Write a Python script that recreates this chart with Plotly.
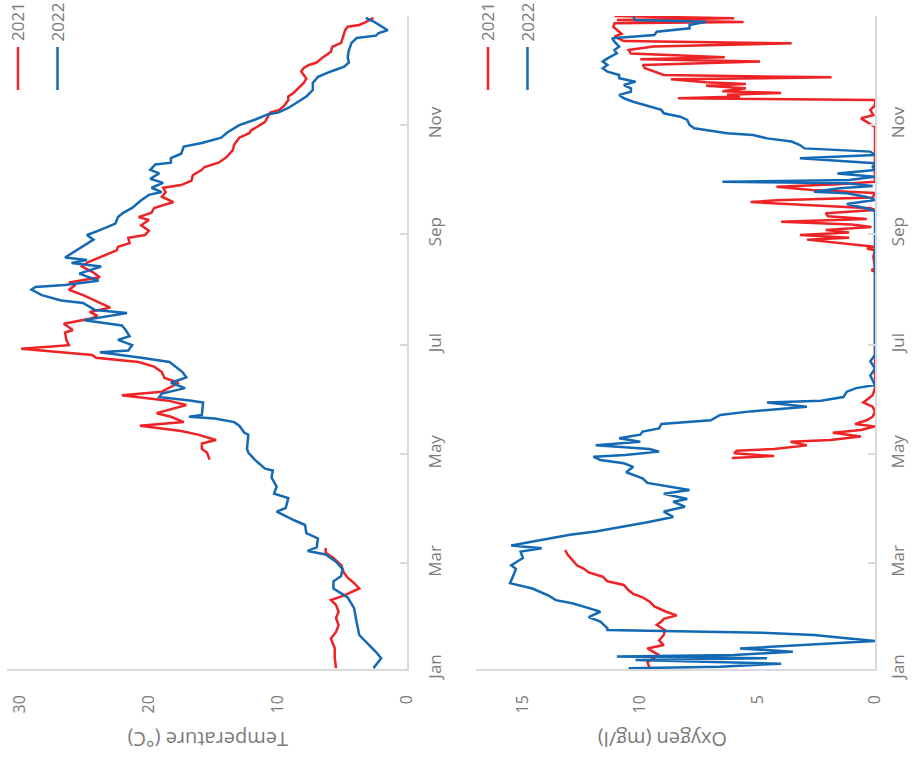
import plotly.graph_objects as go

# ---------------------------------------------------------------- data
# Day of year (0 = 1 Jan) and readings for each season
temp_2021_day = [0.5, 6, 11.7, 17, 20.7, 24.6, 28.5, 32, 35.8, 38.6, 41, 45, 48, 51, 54, 58, 62, 65, 67.6,
                 92,
                 117, 119, 121, 123, 126, 128, 131, 133, 136, 138, 141, 143, 145, 147.6, 150, 153, 155, 157,
                 160, 162.7, 166, 169, 171.6, 174, 175.5, 177, 179, 181, 184, 188, 189.5, 193, 196, 197.5,
                 199.6, 202, 205, 209, 212, 214.6, 216, 219, 222, 225, 227.5, 230, 234, 236, 238, 241,
                 242.6, 245, 248, 251, 252.6, 255, 257.7, 261, 264, 266.6, 269, 270.5, 273, 276, 279,
                 280.6, 283, 286, 290, 293, 297, 299.6, 301, 304, 305.8, 308.5, 311, 312.5, 315, 318, 320,
                 322, 324.8, 327.6, 330, 334, 336, 337.6, 339, 342, 345, 347.7, 350, 354, 357, 359, 360,
                 361.6, 364]
temp_2021_val = [5.5, 5.6, 5.6, 5.9, 5.5, 5.3, 5.5, 5.3, 5.5, 5.9, 4.9, 3.7, 4.1, 4.6, 4.9, 5.1, 5.7, 6.3, 6.3,
                 None,
                 15.3, 15.4, 15.5, 15.9, 15.9, 14.8, 16.2, 17.5, 20.7, 17.3, 18.3, 19.4, 18.3, 17.1, 18.5,
                 22.1, 19.0, 18.5, 17.7, 18.8, 19.0, 19.6, 20.8, 24.1, 24.4, 26.8, 29.9, 26.2, 26.4, 26.5,
                 25.9, 26.6, 24.4, 24.0, 24.6, 23.0, 23.9, 25.1, 26.2, 25.7, 26.2, 23.8, 24.4, 25.2, 24.7,
                 23.9, 22.5, 22.4, 21.5, 21.6, 20.3, 20.0, 20.6, 20.0, 20.8, 19.8, 19.6, 18.1, 19.0, 18.7,
                 18.9, 17.5, 16.7, 16.6, 15.9, 15.7, 14.6, 14.0, 13.5, 13.4, 13.0, 12.2, 12.1, 11.4, 11.0,
                 10.8, 10.6, 9.9, 9.5, 9.2, 9.2, 8.8, 8.4, 8.0, 7.8, 8.2, 8.0, 7.6, 7.0, 6.5, 5.9, 5.8, 5.1,
                 4.9, 4.8, 4.6, 3.7, 3.2, 2.6]

temp_2022_day = [0.5, 6, 9.5, 19, 26, 34, 40, 42, 45, 49, 52, 56, 60, 64, 66, 68, 73, 76, 80.5, 83, 88, 90,
                 95.5, 98, 102, 107, 111, 112, 117, 121, 123, 131, 132, 136, 138, 140, 141, 142, 149, 150,
                 152, 154, 157, 160, 163, 166, 169, 171.6, 174, 177, 178, 181, 184, 186, 189.5, 192, 195,
                 199, 200.7, 204.6, 206, 209, 212, 213.5, 214.6, 217, 221, 225, 227, 228.6, 230, 236, 240,
                 242.6, 245, 249, 252.6, 255, 257.7, 262, 265, 266.6, 269, 271.7, 274, 277, 279, 282, 283,
                 285.6, 288, 292, 294, 297, 300, 304, 307, 310, 311, 313.6, 316, 320, 323.6, 327.6, 331,
                 334, 336.5, 339, 342, 346, 350, 352.7, 354, 355.5, 357, 359, 361.6, 364]
temp_2022_val = [2.6, 2.0, 2.4, 3.7, 3.9, 4.1, 4.6, 5.0, 5.7, 5.7, 5.1, 5.0, 5.5, 6.3, 7.7, 7.0, 6.9, 7.8, 7.9,
                 8.7, 10.1, 9.4, 9.2, 10.3, 10.1, 10.5, 10.4, 11.0, 11.8, 12.3, 12.4, 12.3, 12.6, 13.0,
                 13.4, 14.9, 16.9, 15.9, 15.8, 16.7, 19.2, 19.0, 17.2, 18.3, 17.1, 17.4, 17.9, 18.4, 20.6,
                 23.8, 21.6, 21.3, 22.4, 21.5, 21.8, 22.1, 25.0, 21.7, 24.2, 25.1, 26.8, 28.3, 29.1, 28.8,
                 26.5, 23.9, 25.4, 23.7, 26.0, 24.8, 26.5, 25.2, 24.3, 24.8, 23.9, 22.6, 22.4, 22.0, 21.3,
                 20.6, 20.0, 19.0, 19.8, 18.9, 19.9, 19.2, 19.9, 19.5, 18.3, 18.3, 17.5, 17.3, 15.9, 14.4,
                 13.9, 13.0, 11.8, 10.8, 10.0, 9.2, 8.7, 7.8, 7.3, 7.3, 6.9, 5.9, 4.9, 4.5, 4.6, 4.5, 4.3,
                 3.9, 2.4, 2.2, 1.5, 1.9, 2.5, 3.2]

oxy_2021_day = [0.4, 4, 7.8, 11.5, 13.4, 16, 19, 21.8, 24.6, 26.5, 28, 30, 32, 35, 37.6, 40, 42, 44, 47, 49,
                51.6, 54, 56, 58, 61, 64, 66.5,
                92,
                118, 119, 119.6, 120.6, 122, 123, 125, 127, 128, 130, 132, 133.6, 135.5, 137, 139, 141,
                144, 146.6, 149, 153, 157, 190, 222, 223, 224, 230.5, 234, 235, 236, 240, 241, 242.6, 244,
                245.4, 247, 248.5, 250, 251.5, 253, 254.7, 256.6, 257.5, 259, 261, 262, 263.6, 266, 267.7,
                269.6, 271, 272.4, 290, 303, 307.8, 309.6, 312.5, 315, 318, 319, 320, 321, 322, 323, 324.6,
                326, 327, 328, 329.6, 330.7, 332, 334, 335.8, 337.6, 339.5, 340.8, 342, 344, 346, 348,
                349.7, 351, 353.5, 355, 357, 359, 361, 361.7, 362.8, 363.7, 365]
oxy_2021_val = [9.6, 9.7, 9.2, 9.7, 9.0, 9.2, 9.0, 8.95, 9.3, 9.1, 9.0, 8.45, 8.9, 9.4, 9.6, 9.9, 10.3, 10.5,
                10.7, 11.4, 11.6, 12.2, 12.4, 12.7, 12.9, 13.1, 13.2,
                None,
                6.1, 4.3, 5.0, 6.0, 5.9, 4.3, 2.9, 3.6, 1.9, 0.6, 1.8, 0.6, 0.0, 0.85, 0.35, 0.1, 0.0,
                0.1, 0.5, 0.1, 0.0, 0.0, 0.0, 0.15, 0.0, 0.07, 0.0, 0.35, 0.0, 2.9, 1.1, 3.2, 1.1, 2.1,
                0.15, 1.0, 4.0, 0.35, 2.0, 2.1, 0.0, 0.2, 2.3, 5.3, 4.2, 0.1, 0.0, 2.7, 4.2, 1.6, 0.0,
                0.0, 0.0, 0.6, 0.07, 0.2, 0.0, 0.0, 8.4, 5.75, 6.3, 4.0, 6.5, 5.5, 7.2, 5.5, 7.2, 8.7,
                1.85, 9.0, 9.45, 9.8, 9.9, 4.9, 10.0, 6.4, 10.4, 10.5, 9.45, 3.55, 10.7, 11.1, 10.8, 11.0,
                11.15, 11.1, 5.6, 11.0, 6.0, 11.1]

oxy_2022_day = [0.4, 1.3, 3, 5, 6, 7, 7.8, 9.7, 11.5, 13.4, 15.6, 17, 19, 20.3, 21.8, 22.7, 26.5, 29, 32, 34,
                36.7, 38.5, 41, 45, 48, 52.5, 56, 58, 62, 65.6, 67.5, 69, 72, 75, 76.8, 79.6, 82, 85, 88,
                90.7, 93.5, 95, 98, 100, 102, 104, 106.6, 110, 113, 115, 116.8, 118.7, 119.6, 121.5, 123,
                125, 127, 129, 131, 132.7, 134.5, 137, 139, 142, 144, 146.6, 149, 150, 152, 155, 157,
                158.7, 164, 168, 172, 175.5, 210, 256, 257.5, 259.9, 262.2, 264, 265.9, 266.8, 268.7,
                270, 271.5, 272.4, 273.3, 275.2, 277, 278.9, 280.8, 282.7, 285.5, 287.3, 289.2, 291,
                292.9, 294.8, 296.6, 298.5, 299.4, 300.4, 302.2, 304.1, 306.9, 308.7, 310.6, 312.5, 314.3,
                317.1, 319, 320.9, 322.7, 324.6, 326.4, 328.3, 330.2, 332, 333.9, 335.8, 337.6, 339.5,
                341.3, 344.1, 346, 347.9, 350.7, 352.5, 354.4, 356.2, 358.1, 360, 361.8, 362.8, 364.6]
oxy_2022_val = [10.5, 6.6, 4.0, 10.2, 4.6, 11.0, 6.0, 3.5, 5.75, 3.3, 0.0, 1.1, 2.6, 4.8, 11.4, 11.4, 11.7,
                12.2, 11.7, 12.2, 12.9, 13.6, 13.9, 14.6, 15.55, 15.4, 15.3, 15.5, 15.0, 15.1, 14.2, 15.5,
                14.3, 13.0, 11.9, 10.7, 9.7, 8.6, 9.0, 8.1, 8.6, 8.0, 9.0, 7.9, 8.9, 9.7, 9.9, 10.6, 10.3,
                10.7, 11.7, 12.0, 10.65, 9.2, 9.6, 11.9, 10.0, 10.9, 10.0, 9.9, 9.2, 9.1, 7.0, 6.6, 5.3,
                2.9, 4.6, 2.3, 1.35, 1.2, 0.8, 0.0, 0.2, 0.0, 0.2, 0.0, 0.0, 0.0, 0.4, 1.2, 0.0, 0.4, 1.2,
                2.6, 1.5, 0.1, 1.2, 6.5, 1.1, 0.0, 1.6, 0.0, 0.1, 0.0, 3.2, 0.0, 0.2, 3.0, 3.2, 3.55, 4.6,
                5.2, 6.3, 6.75, 7.7, 7.9, 8.0, 8.3, 9.0, 9.1, 9.6, 10.3, 10.7, 10.9, 10.4, 10.4, 10.7,
                10.2, 10.9, 10.9, 11.4, 11.6, 11.4, 11.6, 11.4, 11.0, 11.1, 10.9, 11.1, 11.2, 9.4, 9.3,
                7.9, 7.9, 7.2, 10.2, 10.3]

years = ["2021", "2022"]
month_days = [0, 59, 120, 181, 243, 304, 365]
month_labels = ["Jan", "Mar", "May", "Jul", "Sep", "Nov", ""]
temp_ticks = [0, 10, 20, 30]
oxy_ticks = [0, 5, 10, 15]

# ---------------------------------------------------------------- styling
RED = "#ee2326"
BLUE = "#1469b4"
GREY_TEXT = "#7a7a7a"
AXIS = "#d9d9d9"
FONT = "Open Sans"
W, H = 912, 763

fig = go.Figure()

panels = [
    ("x", "y", temp_2021_day, temp_2021_val, temp_2022_day, temp_2022_val),
    ("x2", "y2", oxy_2021_day, oxy_2021_val, oxy_2022_day, oxy_2022_val),
]
for xa, ya, d1, v1, d2, v2 in panels:
    fig.add_trace(go.Scatter(x=v1, y=d1, mode="lines", name=years[0], xaxis=xa, yaxis=ya,
                             line=dict(color=RED, width=2.5), connectgaps=False, showlegend=False))
    fig.add_trace(go.Scatter(x=v2, y=d2, mode="lines", name=years[1], xaxis=xa, yaxis=ya,
                             line=dict(color=BLUE, width=2.5), connectgaps=False, showlegend=False))

y_dom = [(H - 669) / H, (H - 16) / H]


def value_axis(dom, rng, ticks, anchor):
    return dict(domain=dom, range=rng, anchor=anchor, tickvals=ticks, tickangle=-90,
                ticks="", showline=True, linecolor=AXIS, linewidth=1.5, showgrid=False,
                zeroline=False, ticklabelstandoff=18,
                tickfont=dict(family=FONT, size=16, color=GREY_TEXT))


def day_axis(anchor, standoff):
    return dict(domain=y_dom, range=[0, 365], anchor=anchor, side="right",
                tickvals=month_days, ticktext=month_labels, tickangle=-90,
                ticks="inside", ticklen=7, tickcolor=AXIS, tickwidth=1.5,
                showline=True, linecolor=AXIS, linewidth=1.5, showgrid=False, zeroline=False,
                ticklabelstandoff=standoff, tickfont=dict(family=FONT, size=17, color=GREY_TEXT))


fig.update_layout(
    width=W, height=H,
    margin=dict(l=0, r=0, t=0, b=0, autoexpand=False),
    paper_bgcolor="white", plot_bgcolor="white",
    showlegend=False,
    xaxis=value_axis([7 / W, 407 / W], [31, 0], temp_ticks, "y"),
    yaxis=day_axis("x", 12),
    xaxis2=value_axis([476 / W, 875 / W], [17, 0], oxy_ticks, "y2"),
    yaxis2=day_axis("x2", 7),
)

# Axis titles (drawn upside down)
for text, cx in [("Temperature (°C)", 208), ("Oxygen (mg/l)", 663)]:
    fig.add_annotation(text=text, x=cx / W, y=1 - 740 / H, xref="paper", yref="paper",
                       showarrow=False, textangle=180, xanchor="center", yanchor="middle",
                       font=dict(family=FONT, size=20, color=GREY_TEXT))

# Season keys for each panel
colors = [RED, BLUE]
for base in (18, 488):
    for i, (yr, col) in enumerate(zip(years, colors)):
        cx = base + i * 39.5
        fig.add_shape(type="line", xref="paper", yref="paper",
                      x0=cx / W, x1=cx / W, y0=1 - 47 / H, y1=1 - 90 / H,
                      line=dict(color=col, width=2.5))
        fig.add_annotation(text=yr, x=cx / W, y=1 - 22 / H, xref="paper", yref="paper",
                           showarrow=False, textangle=-90, xanchor="center", yanchor="middle",
                           font=dict(family=FONT, size=17, color=GREY_TEXT))

fig.write_html("out.html")
